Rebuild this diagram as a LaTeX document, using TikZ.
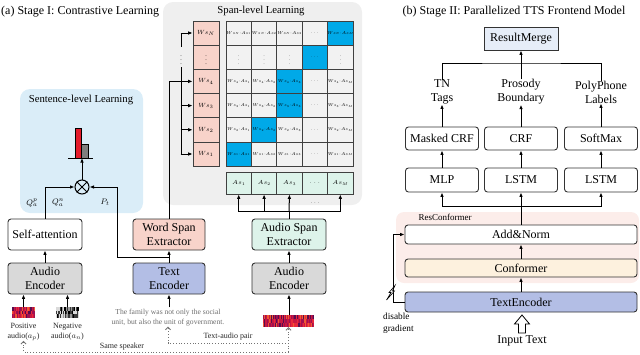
\RequirePackage{fix-cm}
\documentclass[tikz,border=0pt]{standalone}
\usepackage{fontspec}
\setmainfont{Liberation Serif}
\usetikzlibrary{arrows.meta,calc}
\definecolor{sentbg}{HTML}{DAEDF8}
\definecolor{spanbg}{HTML}{EFEFEF}
\definecolor{encgray}{HTML}{D9D9D9}
\definecolor{salmon}{HTML}{F8D3CA}
\definecolor{lav}{HTML}{B3BEE5}
\definecolor{mint}{HTML}{DDF3EA}
\definecolor{cellgray}{HTML}{F2F2F2}
\definecolor{cellblue}{HTML}{00A9E8}
\definecolor{mergebg}{HTML}{E6EDF8}
\definecolor{confbg}{HTML}{FDF1DE}
\definecolor{resbg}{HTML}{FCEDEA}
\definecolor{barred}{HTML}{E31B2B}
\definecolor{bargray}{HTML}{7F7F7F}
\definecolor{spc1}{HTML}{E8283C}
\definecolor{spc2}{HTML}{A01050}
\definecolor{spc3}{HTML}{5A0C4E}
\definecolor{spc4}{HTML}{F05A30}
\definecolor{spc5}{HTML}{C81840}
\definecolor{negc1}{HTML}{000000}
\definecolor{negc2}{HTML}{3A3A3A}
\definecolor{negc3}{HTML}{9A9A9A}
\definecolor{negc4}{HTML}{DADADA}
\definecolor{sentgray}{HTML}{6E6E6E}
\newcommand\MC[5]{\node[mcell,fill=#4] (#1) at (#2,#3) {#5};}
\begin{document}
\begin{tikzpicture}[x=1pt,y=-1pt,
 bx/.style={draw=black!80, line width=0.9pt, rounded corners=3pt, align=center, inner sep=0pt, font=\fontsize{12}{14.5}\selectfont},
 ln/.style={line width=1pt},
 arr/.style={line width=1pt, -{Latex[length=4.5pt,width=3.6pt]}},
 dotarr/.style={draw=black!55, dotted, line width=0.8pt, -{Straight Barb[length=2.5pt,width=5pt]}},
 mcell/.style={draw=black!75, line width=0.7pt, minimum width=25.4pt, minimum height=24.2pt, inner sep=0pt, font=\fontsize{4.2}{5}\selectfont},
 wcell/.style={mcell, fill=salmon, minimum width=26pt, font=\fontsize{6}{7}\selectfont},
 acell/.style={mcell, fill=mint, minimum height=22pt, font=\fontsize{5.8}{7}\selectfont},
 lab/.style={align=center, inner sep=0pt, font=\fontsize{12}{14}\selectfont},
 small/.style={align=center, inner sep=0pt, font=\fontsize{8}{10}\selectfont, text=black!85},
]
\useasboundingbox (0,0) rectangle (640,354);

% ---------- titles and backgrounds
\node[anchor=west, inner sep=0pt, font=\fontsize{12}{14}\selectfont] (ta) at (1,12) {(a) Stage I: Contrastive Learning};
\node[inner sep=0pt, font=\fontsize{12}{14}\selectfont] (tb) at (514,12) {(b) Stage II: Parallelized TTS Frontend Model};
\fill[sentbg, rounded corners=10pt] (20,89) rectangle (143,213);
\node[inner sep=0pt, font=\fontsize{10.7}{12}\selectfont] (sentlab) at (81,100) {Sentence-level Learning};
\fill[spanbg, rounded corners=10pt] (163,2) rectangle (362,205);
\node[inner sep=0pt, font=\fontsize{10.7}{12}\selectfont] (spanlab) at (261,11) {Span-level Learning};

% ---------- boxes of stage I
\node[bx, minimum width=74pt, minimum height=31pt] (selfatt) at (45,234.5) {Self-attention};
\node[bx, fill=encgray, minimum width=74pt, minimum height=31pt] (audenc) at (45,278.5) {Audio\\Encoder};
\node[bx, fill=salmon, minimum width=72pt, minimum height=31pt] (wordspan) at (169,234.5) {Word Span\\Extractor};
\node[bx, fill=lav, minimum width=72pt, minimum height=31pt] (textenc) at (169,278.5) {Text\\Encoder};
\node[bx, fill=mint, minimum width=74pt, minimum height=31pt] (audspan) at (289,234.5) {Audio Span\\Extractor};
\node[bx, fill=encgray, minimum width=74pt, minimum height=31pt] (audenc2) at (289,278.5) {Audio\\Encoder};

% ---------- spectrograms
\pgfmathsetseed{12}
\foreach \i in {0,...,22}{\foreach \j in {0,1,2}{\pgfmathrandominteger{\rc}{1}{5}\fill[spc\rc] ({12+\i},{307+3.67*\j}) rectangle ++(1.05,3.7);}}
\foreach \i in {0,...,22}{\foreach \j in {0,1,2}{\pgfmathrandominteger{\rc}{1}{4}\fill[negc\rc] ({56+\i},{307+3.67*\j}) rectangle ++(1.05,3.7);}}
\foreach \i in {0,...,50}{\foreach \j in {0,1,2}{\pgfmathrandominteger{\rc}{1}{5}\fill[spc\rc] ({263+\i},{315+4*\j}) rectangle ++(1.05,4.05);}}
\node[minimum width=23pt, minimum height=11pt, inner sep=0pt] (specp) at (23.5,312.5) {};
\node[minimum width=23pt, minimum height=11pt, inner sep=0pt] (specn) at (67.5,312.5) {};
\node[minimum width=51pt, minimum height=12pt, inner sep=0pt] (spec2) at (288.5,321) {};

% ---------- sentence-level learning
\draw[fill=barred, line width=0.6pt] (75,128) rectangle (81,158);
\draw[fill=bargray, line width=0.6pt] (81,144) rectangle (88,158);
\draw[line width=1pt] (68,158) -- (93,158);
\coordinate (barbase) at (82,158);
\node[circle, draw, line width=1pt, minimum size=14pt, inner sep=0pt] (otimes) at (82,187) {};
\draw[line width=1pt] (otimes.north west) -- (otimes.south east) (otimes.north east) -- (otimes.south west);
\draw[arr] (otimes) -- (barbase);
\draw[arr] (selfatt.north) |- (otimes.west);
\coordinate (ptj) at ($(textenc.north)!0.4!(wordspan.south)$);
\coordinate (ptbend) at (ptj -| 117,0);
\draw[arr] (ptj) -- (ptbend) |- (otimes.east);
\node[inner sep=0pt, font=\fontsize{8}{9}\selectfont] (qp) at (32,203) {$Q_a^p$};
\node[inner sep=0pt, font=\fontsize{8}{9}\selectfont] (qn) at (58,203) {$Q_a^n$};
\node[inner sep=0pt, font=\fontsize{8}{9}\selectfont] (pt) at (105,202) {$P_t$};

% ---------- stage I arrows
\draw[arr] (textenc.north) -- (wordspan.south);
\draw[arr] (audenc.north) -- (selfatt.south);
\draw[arr] (audenc2.north) -- (audspan.south);
\draw[arr] (specp.north) -- (specp.north |- audenc.south);
\draw[arr] (specn.north) -- (specn.north |- audenc.south);
\draw[arr] (audenc2.south |- spec2.north) -- (audenc2.south);

% ---------- span matrix
\node[wcell] (ws-N) at (206,33) {$Ws_N$};
\node[wcell] (ws-d) at (206,57.2) {$\vdots$};
\node[wcell] (ws-4) at (206,81.4) {$Ws_4$};
\node[wcell] (ws-3) at (206,105.6) {$Ws_3$};
\node[wcell] (ws-2) at (206,129.8) {$Ws_2$};
\node[wcell] (ws-1) at (206,154) {$Ws_1$};

\MC{m-N-1}{238.7}{33}{cellgray}{$Ws_N{\cdot}As_1$}
\MC{m-N-2}{264.1}{33}{cellgray}{$Ws_N{\cdot}As_2$}
\MC{m-N-3}{289.5}{33}{cellgray}{$Ws_N{\cdot}As_3$}
\MC{m-N-4}{314.9}{33}{cellgray}{$\dots$}
\MC{m-N-5}{340.3}{33}{cellblue}{$Ws_N{\cdot}As_M$}

\MC{m-d-1}{238.7}{57.2}{cellgray}{$\vdots$}
\MC{m-d-2}{264.1}{57.2}{cellgray}{$\vdots$}
\MC{m-d-3}{289.5}{57.2}{cellgray}{$\vdots$}
\MC{m-d-4}{314.9}{57.2}{cellblue}{$\dots$}
\MC{m-d-5}{340.3}{57.2}{cellgray}{$\vdots$}

\MC{m-4-1}{238.7}{81.4}{cellgray}{$Ws_4{\cdot}As_1$}
\MC{m-4-2}{264.1}{81.4}{cellgray}{$Ws_4{\cdot}As_2$}
\MC{m-4-3}{289.5}{81.4}{cellblue}{$Ws_4{\cdot}As_3$}
\MC{m-4-4}{314.9}{81.4}{cellgray}{$\dots$}
\MC{m-4-5}{340.3}{81.4}{cellgray}{$Ws_4{\cdot}As_M$}

\MC{m-3-1}{238.7}{105.6}{cellgray}{$Ws_3{\cdot}As_1$}
\MC{m-3-2}{264.1}{105.6}{cellgray}{$Ws_3{\cdot}As_2$}
\MC{m-3-3}{289.5}{105.6}{cellblue}{$Ws_3{\cdot}As_3$}
\MC{m-3-4}{314.9}{105.6}{cellgray}{$\dots$}
\MC{m-3-5}{340.3}{105.6}{cellgray}{$Ws_3{\cdot}As_M$}

\MC{m-2-1}{238.7}{129.8}{cellgray}{$Ws_2{\cdot}As_1$}
\MC{m-2-2}{264.1}{129.8}{cellblue}{$Ws_2{\cdot}As_2$}
\MC{m-2-3}{289.5}{129.8}{cellgray}{$Ws_2{\cdot}As_3$}
\MC{m-2-4}{314.9}{129.8}{cellgray}{$\dots$}
\MC{m-2-5}{340.3}{129.8}{cellgray}{$Ws_2{\cdot}As_M$}

\MC{m-1-1}{238.7}{154}{cellblue}{$Ws_1{\cdot}As_1$}
\MC{m-1-2}{264.1}{154}{cellgray}{$Ws_1{\cdot}As_2$}
\MC{m-1-3}{289.5}{154}{cellgray}{$Ws_1{\cdot}As_3$}
\MC{m-1-4}{314.9}{154}{cellgray}{$\dots$}
\MC{m-1-5}{340.3}{154}{cellgray}{$Ws_1{\cdot}As_M$}

\node[acell] (as-1) at (238.7,183) {$As_1$};
\node[acell] (as-2) at (264.1,183) {$As_2$};
\node[acell] (as-3) at (289.5,183) {$As_3$};
\node[acell] (as-4) at (314.9,183) {$\dots$};
\node[acell] (as-5) at (340.3,183) {$As_M$};
\node[inner sep=0pt, font=\fontsize{5}{6}\selectfont] (asdots) at (315,203) {$\dots$};

% word span -> Ws rows
\draw[arr] (wordspan.north) |- (ws-4.west);
\draw[ln] (ws-N.west -| 181,0) -- (181,47);
\draw[ln] (181,67) -- (ws-1.west -| 181,0);
\node[inner sep=0pt, font=\fontsize{6}{7}\selectfont] (brdots) at (181,57) {$\vdots$};
\foreach \r in {N,3,2,1}{\draw[arr] (ws-\r.west -| 180.5,0) -- (ws-\r.west);}

% audio span -> As
\coordinate (asj) at (audspan.north |- 0,211);
\draw[ln] (audspan.north) -- (asj);
\draw[arr] (asj) -- (as-3.south);
\draw[arr] (asj) -| (as-1.south);
\draw[arr] (asj) -| (as-2.south);
\draw[arr] (asj) -| (as-5.south);

% ---------- bottom texts of stage I
\node[small] (poslab) at (23.5,332) {Positive\\audio($a_p$)};
\node[small] (neglab) at (67.5,332) {Negative\\audio($a_n$)};
\node[align=center, inner sep=0pt, font=\fontsize{7.6}{10}\selectfont, text=sentgray] (sent) at (168,318) {The family was not only the social\\unit, but also the unit of government.};
\draw[arr] (textenc.south |- sent.north) ++(0,-2) -- (textenc.south);
\coordinate (ssr) at (spec2.south |- 0,352);
\coordinate (tap) at (spec2.south |- 0,343);
\draw[dotarr] (ssr) -| (poslab.south);
\draw[dotarr] (ssr) -- (spec2.south);
\draw[dotarr] (tap) -| (sent.south);
\node[small] (sslab) at (122,347) {Same speaker};
\node[small] (talab) at (228,337) {Text-audio pair};

% ---------- stage II
\node[draw=black!80, line width=0.9pt, fill=mergebg, minimum width=74pt, minimum height=23pt, inner sep=0pt, font=\fontsize{12}{14}\selectfont] (merge) at (521,38.5) {ResultMerge};
\node[lab] (tn) at (442,92) {TN\\Tags};
\node[lab] (pb) at (521,92) {Prosody\\Boundary};
\node[lab] (pp) at (601,92) {PolyPhone\\Labels};
\node[bx, minimum width=73pt, minimum height=23pt] (mcrf) at (442,138.5) {Masked CRF};
\node[bx, minimum width=73pt, minimum height=23pt] (crf) at (521,138.5) {CRF};
\node[bx, minimum width=73pt, minimum height=23pt] (softmax) at (601,138.5) {SoftMax};
\node[bx, minimum width=73pt, minimum height=24pt] (mlp) at (442,180) {MLP};
\node[bx, minimum width=73pt, minimum height=24pt] (lstm1) at (521,180) {LSTM};
\node[bx, minimum width=73pt, minimum height=24pt] (lstm2) at (601,180) {LSTM};
\fill[resbg, rounded corners=8pt] (396,212) rectangle (639,283);
\node[inner sep=0pt, font=\fontsize{9}{10}\selectfont] (reslab) at (445,217.5) {ResConformer};
\node[bx, fill=white, minimum width=232pt, minimum height=19pt] (addnorm) at (521,234.5) {Add\&Norm};
\node[bx, fill=confbg, minimum width=232pt, minimum height=18pt] (conf) at (521,268) {Conformer};
\node[bx, fill=lav, minimum width=232pt, minimum height=20pt] (tenc) at (521,302) {TextEncoder};

\draw[arr] (tenc.north) -- (conf.south);
\draw[arr] (conf.north) -- (addnorm.south);
\coordinate (anj) at (addnorm.north |- 0,206);
\draw[ln] (addnorm.north) -- (anj);
\draw[arr] (anj) -- (lstm1.south);
\draw[arr] (anj) -| (mlp.south);
\draw[arr] (anj) -| (lstm2.south);
\draw[arr] (mlp.north) -- (mcrf.south);
\draw[arr] (lstm1.north) -- (crf.south);
\draw[arr] (lstm2.north) -- (softmax.south);
\draw[arr] (mcrf.north) -- (tn.south);
\draw[arr] (crf.north) -- (pb.south);
\draw[arr] (softmax.north) -- (pp.south);
\coordinate (mj) at (pb.north |- 0,63);
\draw[ln] (tn.north) |- (mj) -| (pp.north);
\draw[arr] (pb.north) -- (merge.south);

% residual with disabled gradient
\coordinate (resx) at (tenc.west -| 393,0);
\draw[arr] (tenc.west) -- (resx) |- (addnorm.west);
\draw[fill=white, line width=0.6pt] (386.5,300) -- (391,292.5) -- (389,292.5) -- (395,285.5) -- (392.5,291) -- (394.5,291) -- cycle;
\node[anchor=west, align=left, inner sep=0pt, font=\fontsize{9.3}{12}\selectfont] (dg) at (383,323) {disable\\gradient};

% input
\node[lab] (intext) at (522,341) {Input Text};
\draw[fill=white, line width=0.8pt] (518.5,333) -- (518.5,324) -- (514.5,324) -- (522,315) -- (529.5,324) -- (525.5,324) -- (525.5,333) -- cycle;
\end{tikzpicture}
\end{document}
